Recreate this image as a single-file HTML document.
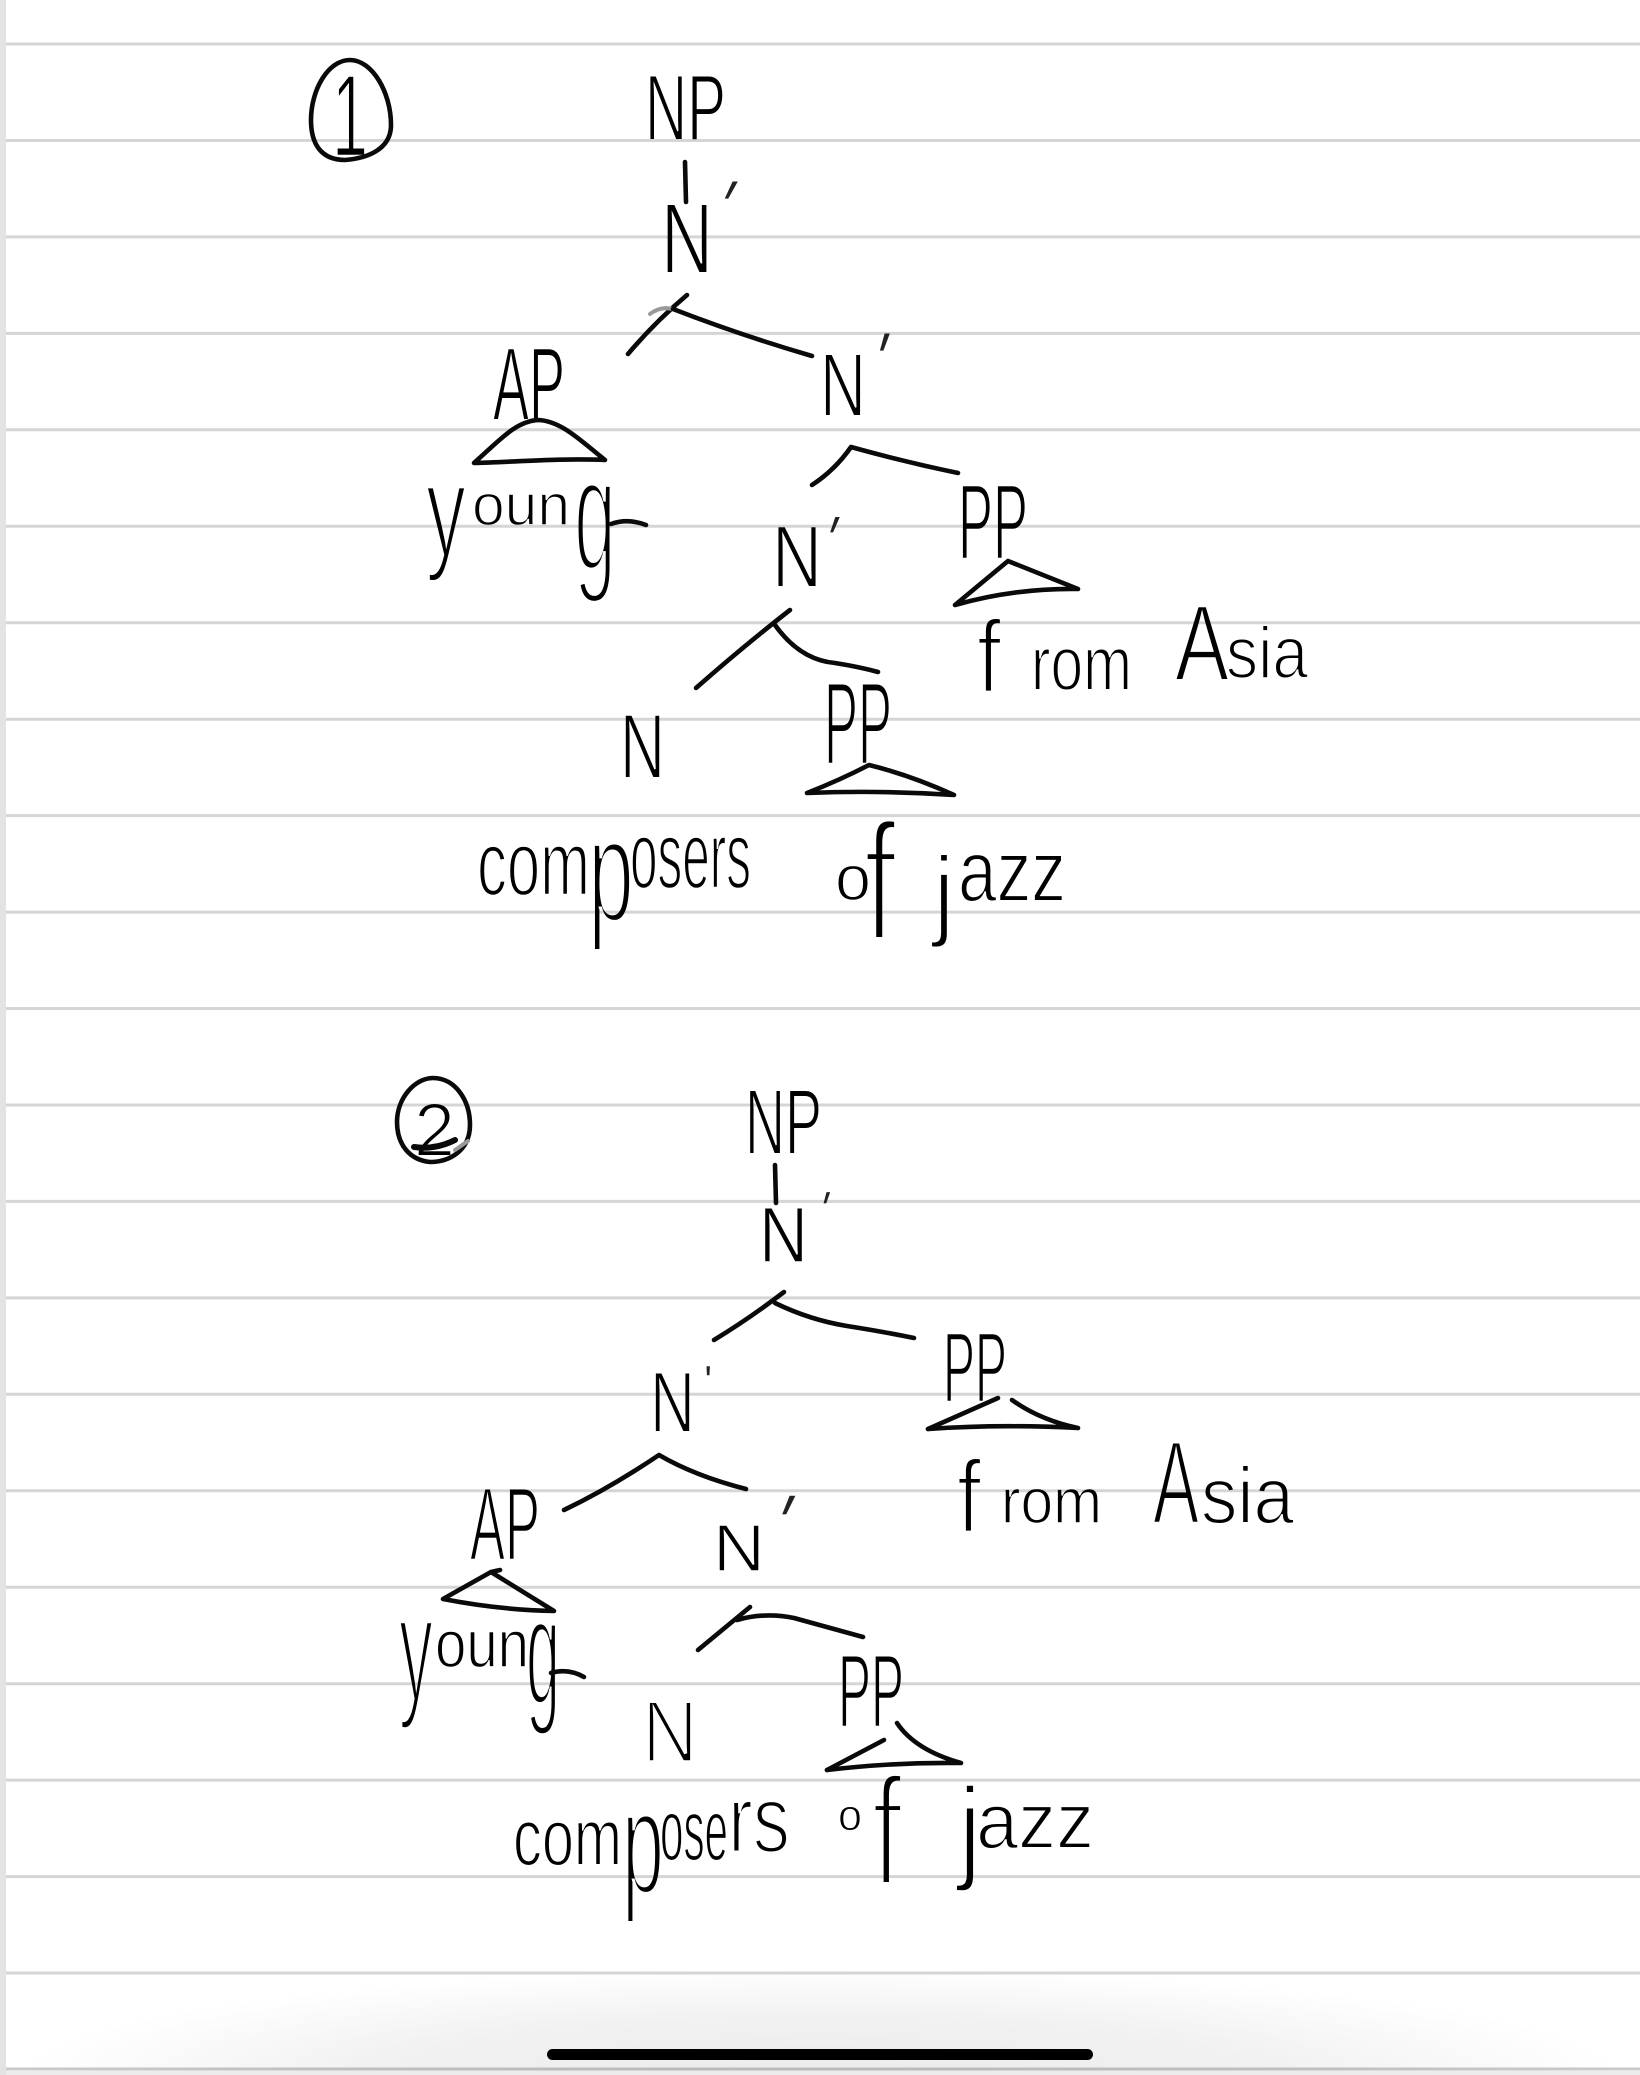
<!DOCTYPE html>
<html lang="en">
<head>
<meta charset="utf-8">
<title>Syntax trees</title>
<style>
html,body{margin:0;padding:0;background:#fff;}
body{width:1640px;height:2075px;overflow:hidden;position:relative;}
svg{position:absolute;left:0;top:0;display:block;}
.t{font-family:"Liberation Sans",sans-serif;fill:#000;stroke:#fff;}
.p{font-family:"Liberation Sans",sans-serif;fill:#222;stroke:#fff;stroke-width:3;}
.c{fill:none;stroke:#0a0a0a;stroke-width:4.6;stroke-linecap:round;stroke-linejoin:round;}
.g{fill:none;stroke:#999;stroke-width:4;stroke-linecap:round;}
</style>
</head>
<body>
<svg width="1640" height="2075" viewBox="0 0 1640 2075" xmlns="http://www.w3.org/2000/svg">
<defs>
<radialGradient id="sh" cx="820" cy="2075" r="1" gradientUnits="userSpaceOnUse" gradientTransform="translate(820 2075) scale(800 105) translate(-820 -2075)">
<stop offset="0" stop-color="#ececec"/><stop offset=".55" stop-color="#f1f1f1"/><stop offset="1" stop-color="#fff"/>
</radialGradient>
</defs>
<rect width="1640" height="2075" fill="#fff"/>
<rect x="0" y="1965" width="1640" height="110" fill="url(#sh)"/>

<!-- Tree 1 labels -->
<text class="t" x="332" y="156" font-size="117" textLength="36" lengthAdjust="spacingAndGlyphs" stroke-width="2.5">1</text>
<text class="t" x="645" y="140" font-size="94" textLength="81" lengthAdjust="spacingAndGlyphs" stroke-width="2">NP</text>
<text class="t" x="661" y="273" font-size="100" textLength="52" lengthAdjust="spacingAndGlyphs" stroke-width="2">N</text>
<text class="p" transform="translate(694.5 244) skewX(-27)" font-size="93">'</text>
<text class="t" x="493" y="420" font-size="104" textLength="72" lengthAdjust="spacingAndGlyphs" stroke-width="2">AP</text>
<text class="t"><tspan x="426" y="555" font-size="130" textLength="40" lengthAdjust="spacingAndGlyphs" stroke-width="4">y</tspan><tspan x="472" y="525" font-size="58" textLength="98" lengthAdjust="spacingAndGlyphs" stroke-width="1.5">oun</tspan><tspan x="574" y="570" font-size="163" textLength="42" lengthAdjust="spacingAndGlyphs" stroke-width="6">g</tspan></text>
<text class="t" x="820" y="416" font-size="90" textLength="46" lengthAdjust="spacingAndGlyphs" stroke-width="2">N</text>
<text class="p" transform="translate(858 396) skewX(-18)" font-size="93">'</text>
<text class="t" x="772" y="587" font-size="88" textLength="50" lengthAdjust="spacingAndGlyphs" stroke-width="2">N</text>
<text class="p" transform="translate(807.5 574) skewX(-21)" font-size="85">'</text>
<text class="t" x="958" y="559" font-size="108" textLength="70" lengthAdjust="spacingAndGlyphs" stroke-width="2.5">PP</text>
<text class="t"><tspan x="977" y="692" font-size="103" textLength="24" lengthAdjust="spacingAndGlyphs" stroke-width="3">f</tspan><tspan x="1031" y="690" font-size="77" textLength="101" lengthAdjust="spacingAndGlyphs" stroke-width="2">rom</tspan> <tspan x="1175" y="680" font-size="108" textLength="54" lengthAdjust="spacingAndGlyphs" stroke-width="2.5">A</tspan><tspan x="1226" y="678" font-size="73" textLength="82" lengthAdjust="spacingAndGlyphs" stroke-width="2">sia</tspan></text>
<text class="t" x="620" y="778" font-size="92" textLength="45" lengthAdjust="spacingAndGlyphs" stroke-width="2">N</text>
<text class="t" x="824" y="764" font-size="118" textLength="68" lengthAdjust="spacingAndGlyphs" stroke-width="3">PP</text>
<text class="t"><tspan x="477" y="895" font-size="92" textLength="113" lengthAdjust="spacingAndGlyphs" stroke-width="2.5">com</tspan><tspan x="588" y="921" font-size="147" textLength="46" lengthAdjust="spacingAndGlyphs" stroke-width="5">p</tspan><tspan x="630" y="888" font-size="96" textLength="121" lengthAdjust="spacingAndGlyphs" stroke-width="2.5">osers</tspan></text>
<text class="t"><tspan x="835" y="900" font-size="64" textLength="36" lengthAdjust="spacingAndGlyphs" stroke-width="1.5">o</tspan><tspan x="864" y="940" font-size="168" textLength="32" lengthAdjust="spacingAndGlyphs" stroke-width="6">f</tspan> <tspan x="933" y="927" font-size="101" textLength="22" lengthAdjust="spacingAndGlyphs" stroke-width="3">j</tspan><tspan x="958" y="901" font-size="87" textLength="108" lengthAdjust="spacingAndGlyphs" stroke-width="2">azz</tspan></text>

<!-- Tree 2 labels -->
<text class="t" x="414" y="1156" font-size="76" textLength="41" lengthAdjust="spacingAndGlyphs" stroke-width="2">2</text>
<text class="t" x="745" y="1154" font-size="93" textLength="77" lengthAdjust="spacingAndGlyphs" stroke-width="2">NP</text>
<text class="t" x="759" y="1262" font-size="79" textLength="49" lengthAdjust="spacingAndGlyphs" stroke-width="1.5">N</text>
<text class="p" transform="translate(810.5 1232) skewX(-17)" font-size="59" style="stroke-width:1.5">'</text>
<text class="t" x="650" y="1432" font-size="86" textLength="45" lengthAdjust="spacingAndGlyphs" stroke-width="2">N</text>
<text class="p" transform="translate(704 1396)" font-size="44" style="stroke-width:.5">'</text>
<text class="t" x="943" y="1402" font-size="100" textLength="64" lengthAdjust="spacingAndGlyphs" stroke-width="2.5">PP</text>
<text class="t"><tspan x="957" y="1532" font-size="103" textLength="24" lengthAdjust="spacingAndGlyphs" stroke-width="3">f</tspan><tspan x="1001" y="1523" font-size="64" textLength="101" lengthAdjust="spacingAndGlyphs" stroke-width="1.5">rom</tspan> <tspan x="1153" y="1523" font-size="118" textLength="46" lengthAdjust="spacingAndGlyphs" stroke-width="3">A</tspan><tspan x="1201" y="1523" font-size="80" textLength="93" lengthAdjust="spacingAndGlyphs" stroke-width="2">sia</tspan></text>
<text class="t" x="470" y="1560" font-size="104" textLength="70" lengthAdjust="spacingAndGlyphs" stroke-width="2.5">AP</text>
<text class="t" x="713" y="1571" font-size="67" textLength="52" lengthAdjust="spacingAndGlyphs" stroke-width="1.5">N</text>
<text class="p" transform="translate(753 1563) skewX(-24)" font-size="100">'</text>
<text class="t"><tspan x="399" y="1699" font-size="148" textLength="34" lengthAdjust="spacingAndGlyphs" stroke-width="5">y</tspan><tspan x="435" y="1667" font-size="67" textLength="94" lengthAdjust="spacingAndGlyphs" stroke-width="1.5">oun</tspan><tspan x="526" y="1704" font-size="153" textLength="34" lengthAdjust="spacingAndGlyphs" stroke-width="5">g</tspan></text>
<text class="t" x="642" y="1762" font-size="88" textLength="56" lengthAdjust="spacingAndGlyphs" stroke-width="3.5">N</text>
<text class="t" x="838" y="1727" font-size="104" textLength="66" lengthAdjust="spacingAndGlyphs" stroke-width="2.5">PP</text>
<text class="t"><tspan x="513" y="1865" font-size="81" textLength="109" lengthAdjust="spacingAndGlyphs" stroke-width="2">com</tspan><tspan x="622" y="1893" font-size="147" textLength="42" lengthAdjust="spacingAndGlyphs" stroke-width="5">p</tspan><tspan x="660" y="1860" font-size="87" textLength="68" lengthAdjust="spacingAndGlyphs" stroke-width="2">ose</tspan><tspan x="728" y="1852" font-size="96" textLength="62" lengthAdjust="spacingAndGlyphs" stroke-width="3">rs</tspan></text>
<text class="t"><tspan x="838" y="1830" font-size="44" textLength="24" lengthAdjust="spacingAndGlyphs" stroke-width="1">o</tspan><tspan x="872" y="1885" font-size="155" textLength="30" lengthAdjust="spacingAndGlyphs" stroke-width="6">f</tspan> <tspan x="958" y="1868" font-size="116" textLength="24" lengthAdjust="spacingAndGlyphs" stroke-width="3.5">j</tspan><tspan x="976" y="1848" font-size="79" textLength="118" lengthAdjust="spacingAndGlyphs" stroke-width="2">azz</tspan></text>

<!-- Tree 1 shapes -->
<path class="c" d="M350 60C372 60 391 92 391 125C391 148 370 158 345 160C322 160 311 145 311 120C311 90 328 60 350 60Z"/>
<path class="c" d="M685 162L686 202"/>
<path class="c" d="M687 295Q655 322 628 354"/>
<path class="g" d="M650 314Q660 306 673 309"/>
<path class="c" d="M673 309Q740 335 812 356"/>
<path class="c" d="M474 463C500 440 515 422 537 420C560 420 580 440 605 460C560 458 515 462 474 463Z"/>
<path class="c" d="M611 524Q628 518 646 525"/>
<path class="c" d="M812 485Q835 470 851 447Q905 462 958 473"/>
<path class="c" d="M955 605L1008 561L1078 589Q1015 588 955 605Z"/>
<path class="c" d="M790 610Q745 645 696 688"/>
<path class="c" d="M775 625Q800 660 835 663Q860 667 878 672"/>
<path class="c" d="M807 793Q840 780 869 765Q910 775 954 795Q880 790 807 793Z"/>

<!-- Tree 2 shapes -->
<path class="c" d="M433 1078C455 1078 470 1100 470 1125C470 1150 450 1162 430 1162C410 1160 397 1145 397 1122C397 1098 415 1078 433 1078Z"/>
<path class="c" style="stroke-width:6" d="M414 1147Q435 1150 455 1140"/>
<path class="g" d="M455 1150L468 1141"/>
<path class="c" d="M775 1165L776 1203"/>
<path class="c" d="M784 1292Q750 1318 714 1340"/>
<path class="c" d="M775 1303Q810 1320 847 1326Q885 1332 914 1338"/>
<path class="c" d="M564 1510Q610 1488 659 1455Q695 1476 746 1489"/>
<path class="c" d="M928 1429L998 1398"/>
<path class="c" d="M1012 1400Q1040 1420 1078 1428Q1000 1424 928 1429"/>
<path class="c" d="M500 1570L491 1572L443 1599Q500 1610 554 1611L491 1572"/>
<path class="c" d="M551 1673Q568 1668 584 1677"/>
<path class="c" d="M750 1607L698 1650"/>
<path class="c" d="M737 1620Q765 1612 794 1618Q830 1628 863 1637"/>
<path class="c" d="M827 1770L884 1740"/>
<path class="c" d="M897 1723Q915 1750 961 1763Q895 1762 827 1770"/>

<!-- Paper rules: multiply so ink stays dark over them -->
<g style="mix-blend-mode:multiply" stroke="#d5d5d5" stroke-width="3">
<path d="M6 44H1640M6 140.5H1640M6 236.9H1640M6 333.4H1640M6 429.8H1640M6 526.3H1640M6 622.7H1640M6 719.2H1640M6 815.6H1640M6 912.1H1640M6 1008.5H1640M6 1105H1640M6 1201.4H1640M6 1297.9H1640M6 1394.3H1640M6 1490.8H1640M6 1587.2H1640M6 1683.7H1640M6 1780.1H1640M6 1876.6H1640M6 1973H1640"/>
<path stroke="#c9c9c9" d="M6 2069H1640"/>
</g>
<rect x="6" y="2071" width="1634" height="4" fill="#ececec"/>
<rect x="0" y="0" width="6" height="2075" fill="#e3e3e3"/>
<rect x="547" y="2049" width="546" height="11" rx="5.5" fill="#000"/>
</svg>
</body>
</html>
